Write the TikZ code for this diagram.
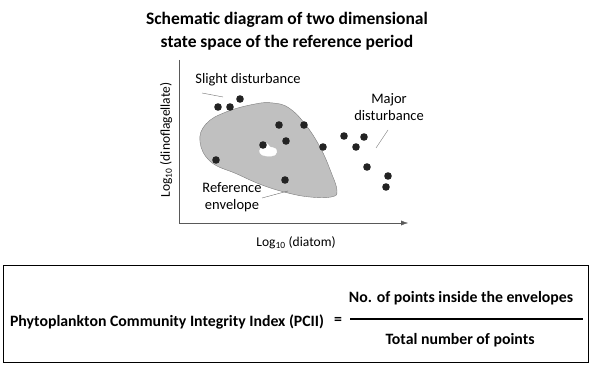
\documentclass[tikz,border=0pt]{standalone}
\usepackage{fontspec}
\setmainfont{Carlito}
\usepackage{color}
\definecolor{envgray}{RGB}{192,192,192}
\definecolor{rimgray}{RGB}{125,125,125}
\definecolor{leadgray}{RGB}{110,110,110}
\definecolor{dotblack}{RGB}{35,35,35}
\usetikzlibrary{arrows.meta,positioning}
\tikzstyle{dot}=[circle,fill=dotblack,minimum size=7.6pt,inner sep=0pt]
\tikzstyle{lbl}=[font=\fontsize{14.5}{16.5}\selectfont,align=center,inner sep=0pt]
\tikzstyle{title}=[font=\bfseries\fontsize{17.5}{23}\selectfont,align=center,inner sep=0pt]
\tikzstyle{axlbl}=[font=\fontsize{13.5}{15}\selectfont,inner sep=0pt]
\tikzstyle{eqn}=[font=\bfseries\fontsize{15.8}{17}\selectfont,inner sep=0pt]
\tikzstyle{lead}=[draw=leadgray,thin]

\begin{document}
\begin{tikzpicture}[x=1pt,y=-1pt]
\useasboundingbox (0,0) rectangle (593,366);
% title
\draw (287,31) node [title] (head) {Schematic diagram of two dimensional\\state space of the reference period};
% axes
\coordinate (orig) at (179,223);
\coordinate (ytop) at (179,60);
\coordinate (xend) at (408,223);
\draw[gray!70!black,thin] (ytop) -- (orig);
\draw[gray!70!black,thin,-{Latex[length=7pt,width=5pt]}] (orig) -- (xend);
\draw (166,140) node [axlbl,rotate=90] (ylab) {Log\textsubscript{10} (dinoflagellate)};
\draw (296,243) node [axlbl] (xlab) {Log\textsubscript{10} (diatom)};
% reference envelope
\draw[fill=envgray,draw=rimgray,thin] plot[smooth cycle,tension=0.7] coordinates {
  (200,142) (206,124) (226,112) (255,104) (273,103) (289,108) (305,124)
  (320,147) (331,172) (337,191) (331,197) (310,197) (288,193) (262,185)
  (237,174) (211,162)};
\draw[fill=white,draw=white] plot[smooth cycle,tension=0.8] coordinates {
  (261,148) (266,143) (270,147) (276,149) (275,155) (266,156) (260,153)};
% points
\draw (218,107) node [dot] (p1) {};
\draw (230,107) node [dot] (p2) {};
\draw (240,99) node [dot] (p3) {};
\draw (279,125) node [dot] (p4) {};
\draw (304,125) node [dot] (p5) {};
\draw (286,141) node [dot] (p6) {};
\draw (263,145) node [dot] (p7) {};
\draw (323,147) node [dot] (p8) {};
\draw (216,160) node [dot] (p9) {};
\draw (285,180) node [dot] (p10) {};
\draw (344,136) node [dot] (p11) {};
\draw (364,137) node [dot] (p12) {};
\draw (356,147) node [dot] (p13) {};
\draw (367,167) node [dot] (p14) {};
\draw (388,176) node [dot] (p15) {};
\draw (386,187) node [dot] (p16) {};
% labels
\draw (248,80) node [lbl] (slight) {Slight disturbance};
\draw (389,107) node [lbl] (major) {Major\\disturbance};
\draw (232,197) node [lbl] (refenv) {Reference\\envelope};
\coordinate (slightend) at (223,97);
\coordinate (majorend) at (376,148);
\coordinate (refend) at (288,191);
\draw[lead] (202,93) -- (slightend);
\draw[lead] (388,130) -- (majorend);
\draw[lead] (262,198) -- (refend);
% index box
\draw[thick] (3,265) rectangle (588,362);
\draw (167,322) node [eqn] (pcii) {Phytoplankton Community Integrity Index (PCII)};
\draw (338,321) node [eqn] (eq) {=};
\draw (461,298) node [eqn] (num) {No. of points inside the envelopes};
\draw (460,340) node [eqn] (den) {Total number of points};
\coordinate (barl) at (350,319);
\coordinate (barr) at (583,319);
\draw[line width=1.6pt] (barl) -- (barr);
\end{tikzpicture}
\end{document}
